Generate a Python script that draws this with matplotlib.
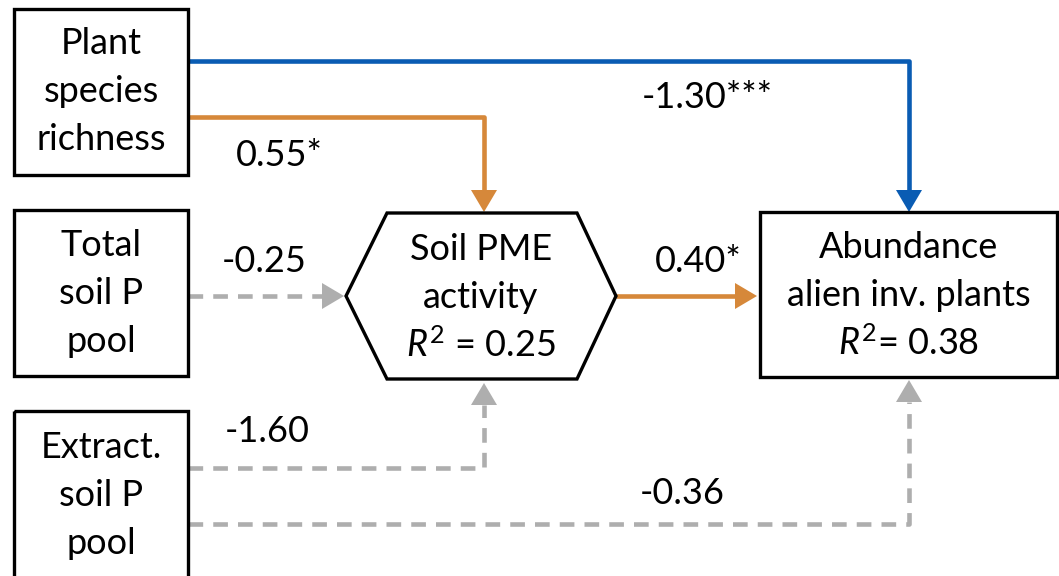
import matplotlib
matplotlib.use("Agg")
import matplotlib.pyplot as plt
from matplotlib.patches import Rectangle, Polygon

plt.rcParams['font.family'] = ['Lato', 'DejaVu Sans']
plt.rcParams['mathtext.fontset'] = 'custom'
plt.rcParams['mathtext.rm'] = 'Lato'
plt.rcParams['mathtext.it'] = 'Lato:italic'

# node labels (one entry per text line)
plant_lines = ["Plant", "species", "richness"]
total_p_lines = ["Total", "soil P", "pool"]
extract_p_lines = ["Extract.", "soil P", "pool"]
pme_lines = ["Soil PME", "activity", "$R^2$ = 0.25"]
alien_lines = ["Abundance", "alien inv. plants", "$R^2$= 0.38"]

# path coefficients
coef_plant_alien = "-1.30***"
coef_plant_pme = "0.55*"
coef_total_pme = "-0.25"
coef_pme_alien = "0.40*"
coef_extract_pme = "-1.60"
coef_extract_alien = "-0.36"

BLUE = "#0A5CB3"
ORANGE = "#D6883A"
GREY = "#AEAEAE"
FS = 26

fig = plt.figure(figsize=(10.59, 5.76), dpi=100)
ax = fig.add_axes([0, 0, 1, 1])
ax.set_xlim(0, 1059)
ax.set_ylim(576, 0)
ax.axis("off")


def box(x0, y0, x1, y1, lines, cx=None, cy=None, step=48):
    ax.add_patch(Rectangle((x0, y0), x1 - x0, y1 - y0, fill=False,
                           ec="black", lw=2.4, zorder=3))
    cx = (x0 + x1) / 2 if cx is None else cx
    cy = (y0 + y1) / 2 if cy is None else cy
    draw_lines(cx, cy, lines, step)


def draw_lines(cx, cy, lines, step=48):
    n = len(lines)
    for i, s in enumerate(lines):
        ax.text(cx, cy + (i - (n - 1) / 2) * step, s, ha="center",
                va="center", fontsize=FS, zorder=4)


def path(pts, color, dashed=False, hl=22, hw=13):
    xs = [p[0] for p in pts]
    ys = [p[1] for p in pts]
    (xa, ya), (xb, yb) = pts[-2], pts[-1]
    dx, dy = xb - xa, yb - ya
    d = (dx ** 2 + dy ** 2) ** 0.5
    ux, uy = dx / d, dy / d
    xs[-1] = xb - ux * hl
    ys[-1] = yb - uy * hl
    ls = (0, (3.2, 2.2)) if dashed else "-"
    ax.plot(xs, ys, color=color, lw=3.3, ls=ls, solid_capstyle="butt",
            dash_capstyle="butt", zorder=2)
    bx, by = xb - ux * hl, yb - uy * hl
    head = [(xb, yb), (bx - uy * hw, by + ux * hw), (bx + uy * hw, by - ux * hw)]
    ax.add_patch(Polygon(head, closed=True, fc=color, ec="none", zorder=2))


# boxes
box(14, 9, 188, 175, plant_lines, cy=92)
box(14, 210, 188, 376, total_p_lines, cy=294)
box(14, 411, 188, 600, extract_p_lines, cy=496)
box(760, 212, 1057, 377, alien_lines, cy=295)

# hexagon
hexagon = [(346, 296), (387, 213), (577, 213), (616, 296), (577, 379), (387, 379)]
ax.add_patch(Polygon(hexagon, closed=True, fill=False, ec="black", lw=2.4,
                     joinstyle="miter", zorder=3))
draw_lines(481, 297, pme_lines)

# paths
path([(188, 61), (909, 61), (909, 212)], BLUE)
path([(188, 117), (484, 117), (484, 212)], ORANGE)
path([(616, 296), (757, 296)], ORANGE)
path([(188, 296), (344, 296)], GREY, dashed=True)
path([(188, 468), (484, 468), (484, 383)], GREY, dashed=True)
path([(188, 524), (909, 524), (909, 380)], GREY, dashed=True)

# coefficient labels
ax.text(642, 97, coef_plant_alien, ha="left", va="center", fontsize=FS)
ax.text(236, 155, coef_plant_pme, ha="left", va="center", fontsize=FS)
ax.text(222, 262, coef_total_pme, ha="left", va="center", fontsize=FS)
ax.text(655, 262, coef_pme_alien, ha="left", va="center", fontsize=FS)
ax.text(225, 432, coef_extract_pme, ha="left", va="center", fontsize=FS)
ax.text(640, 493, coef_extract_alien, ha="left", va="center", fontsize=FS)

fig.savefig("out.png", dpi=100)
